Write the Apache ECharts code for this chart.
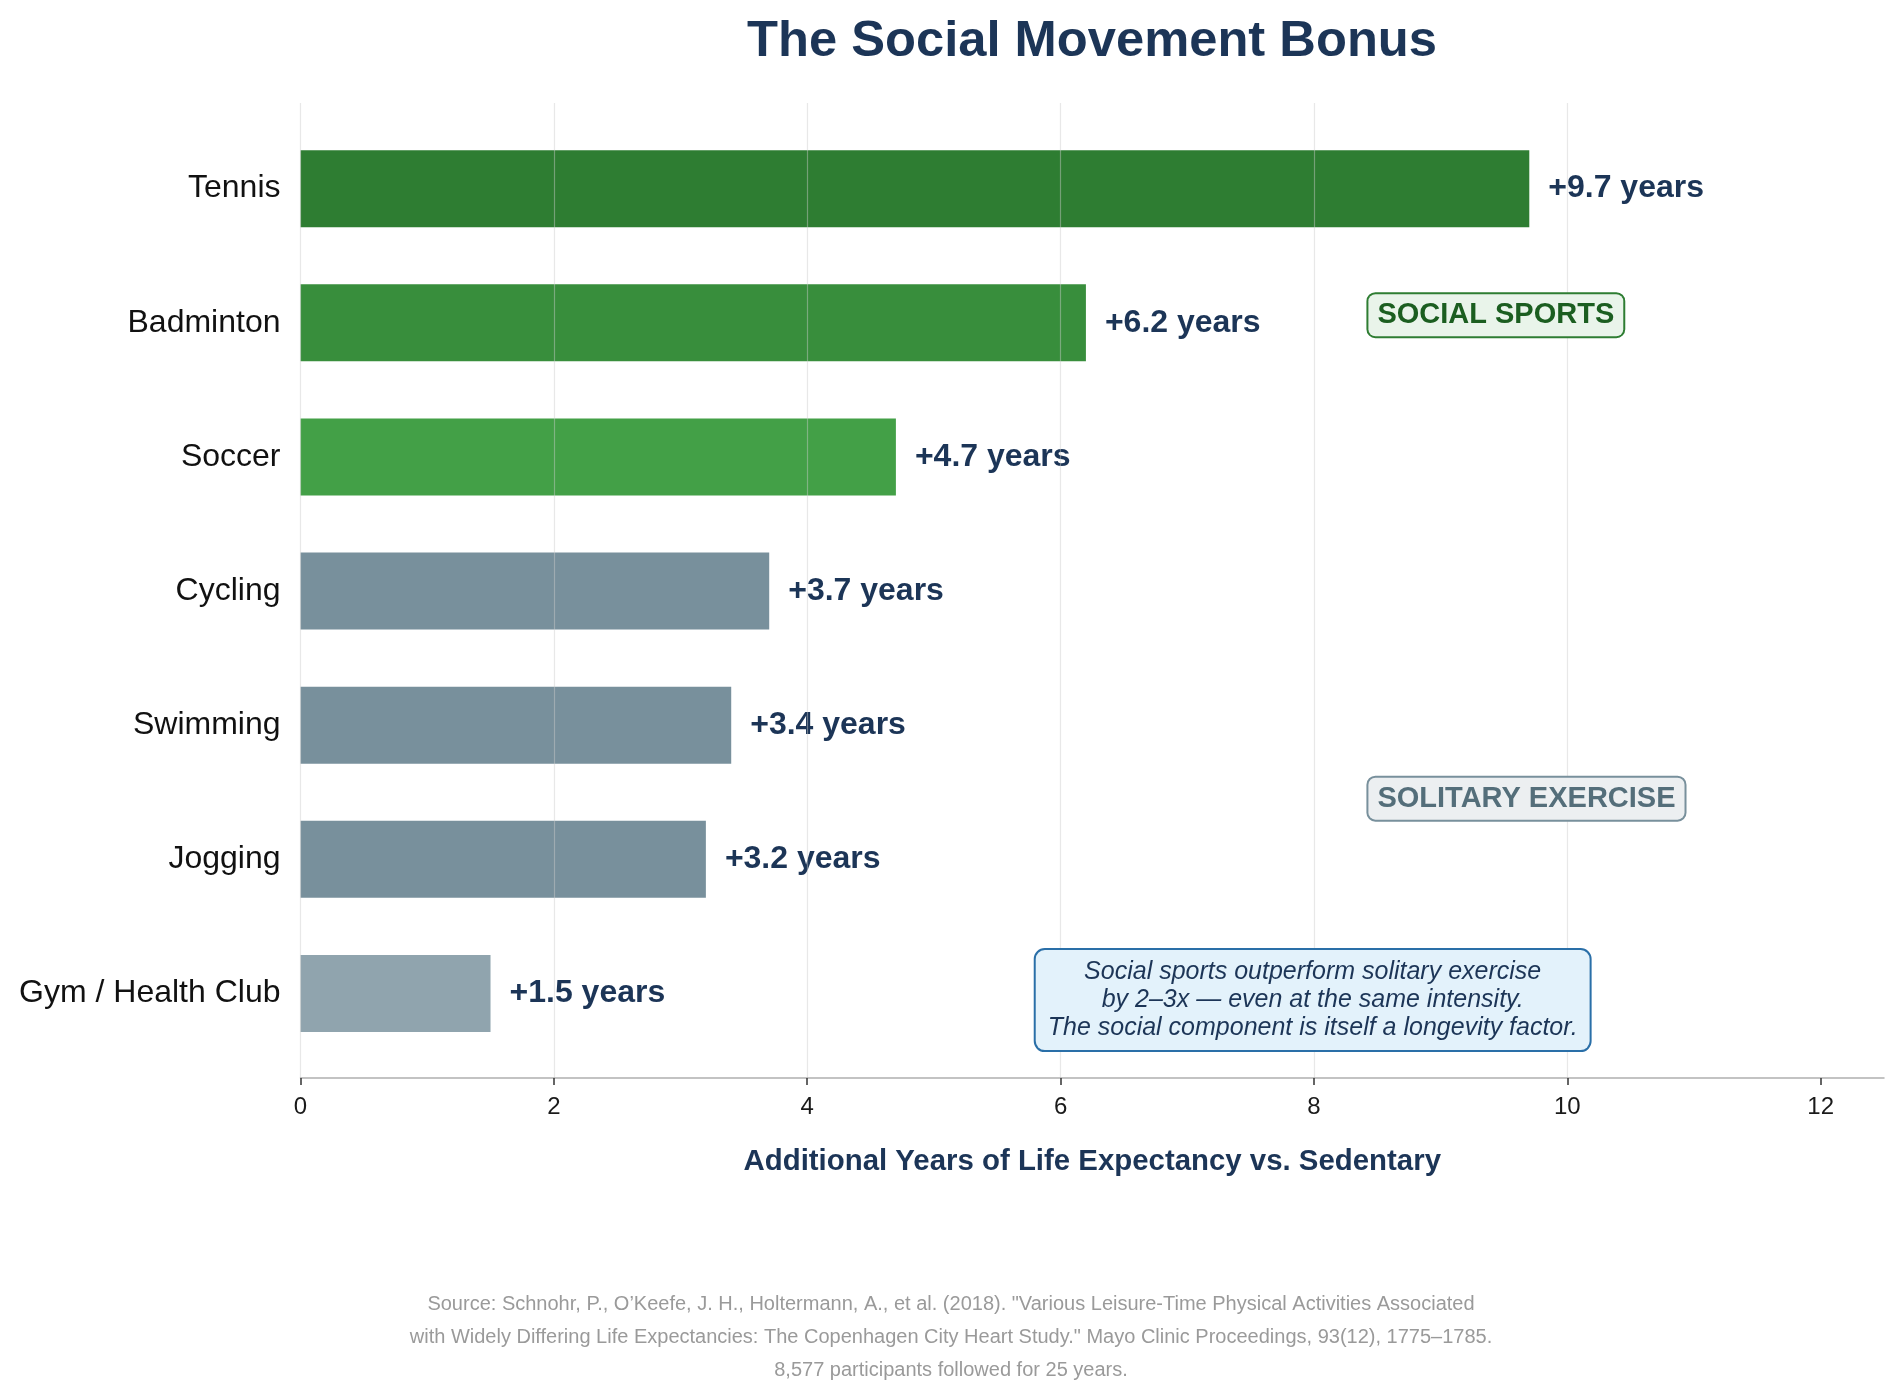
<!DOCTYPE html>
<html><head><meta charset="utf-8">
<script src="https://cdn.jsdelivr.net/npm/echarts@6/dist/echarts.min.js"></script>
<style>html,body{margin:0;padding:0;background:#fff}#c{width:1902px;height:1400px}</style>
</head><body><div id="c"></div>
<script>
// ---- data ----
const categories = ['Tennis', 'Badminton', 'Soccer', 'Cycling', 'Swimming', 'Jogging', 'Gym / Health Club'];
const yearsGained = [9.7, 6.2, 4.7, 3.7, 3.4, 3.2, 1.5];
const xTickValues = [0, 2, 4, 6, 8, 10, 12];
const titleText = 'The Social Movement Bonus';
const xAxisTitle = 'Additional Years of Life Expectancy vs. Sedentary';
const socialTag = 'SOCIAL SPORTS';
const solitaryTag = 'SOLITARY EXERCISE';
const noteLines = [
  'Social sports outperform solitary exercise',
  'by 2\u20133x \u2014 even at the same intensity.',
  'The social component is itself a longevity factor.'
];
const sourceLines = [
  'Source: Schnohr, P., O\u2019Keefe, J. H., Holtermann, A., et al. (2018). "Various Leisure-Time Physical Activities Associated',
  'with Widely Differing Life Expectancies: The Copenhagen City Heart Study." Mayo Clinic Proceedings, 93(12), 1775\u20131785.',
  '8,577 participants followed for 25 years.'
];

// ---- styles ----
const barPalette = ['#2e7d32', '#388e3c', '#43a047', '#78909c', '#78909c', '#78909c', '#90a4ae'];
const FONT = '"Liberation Sans", Arial, sans-serif';
const NAVY = '#1c3557';
const X_MAX = 12.5;

const chart = echarts.init(document.getElementById('c'), null, {renderer: 'canvas'});
const gridColor = 'rgba(205,205,205,0.45)';

const option = {
  animation: false,
  backgroundColor: '#ffffff',
  title: {
    text: titleText, left: 1087, top: 12, textAlign: 'center',
    textStyle: {fontFamily: FONT, fontSize: 50.7, fontWeight: 'bold', color: NAVY}
  },
  grid: [
    {left: 300.5, right: 18, top: 103, bottom: 322},
    {left: 300.5, right: 18, top: 121.6, bottom: 339.5}
  ],
  xAxis: [
    {
      gridIndex: 0, type: 'value', min: 0, max: X_MAX, interval: 2, z: 10,
      name: xAxisTitle, nameLocation: 'middle', nameGap: 69,
      nameTextStyle: {fontFamily: FONT, fontSize: 29.4, fontWeight: 'bold', color: NAVY},
      axisLine: {show: true, onZero: false, lineStyle: {color: '#b0b0b0', width: 1.5}},
      axisTick: {show: true, customValues: xTickValues, length: 7, lineStyle: {color: '#333', width: 1.5}},
      axisLabel: {customValues: xTickValues, margin: 17, fontFamily: FONT, fontSize: 24, color: '#1a1a1a'},
      splitLine: {show: true, showMaxLine: false, lineStyle: {color: [gridColor, gridColor, gridColor, gridColor, gridColor, gridColor, gridColor, 'rgba(0,0,0,0)'], width: 1.2}}
    },
    {
      gridIndex: 1, type: 'value', min: 0, max: X_MAX, show: false,
      splitLine: {show: false}
    }
  ],
  yAxis: [
    {gridIndex: 0, type: 'value', min: -0.63, max: 6.63, inverse: true, show: false, splitLine: {show: false}},
    {
      gridIndex: 1, type: 'category', data: categories, inverse: true,
      axisLine: {show: false}, axisTick: {show: false},
      axisLabel: {margin: 20, padding: [5, 0, 0, 0], fontFamily: FONT, fontSize: 32, color: '#111'}
    }
  ],
  series: [{
    type: 'bar', xAxisIndex: 1, yAxisIndex: 1, barWidth: 77,
    data: yearsGained.map((v, i) => ({value: v, itemStyle: {color: barPalette[i]}})),
    label: {
      show: true, position: 'right', distance: 19,
      formatter: p => '+' + p.value.toFixed(1) + ' years',
      fontFamily: FONT, fontSize: 32, fontWeight: 'bold', color: NAVY
    }
  }]
};
chart.setOption(option);

function px(x, y) { return chart.convertToPixel({gridIndex: 0}, [x, y]); }
const pSocial = px(8.43, 0.95);
const pSolitary = px(8.43, 4.55);
const pNote = px(7.99, 6.05);

chart.setOption({
  graphic: [
    {
      type: 'text', x: pSocial[0], y: pSocial[1], z: 100,
      style: {
        text: socialTag, fontFamily: FONT, fontSize: 29, fontWeight: 'bold', fill: '#1b5e20',
        align: 'left', verticalAlign: 'middle',
        backgroundColor: '#e9f4ea', borderColor: '#2e7d32', borderWidth: 2, borderRadius: 7,
        padding: [7, 9, 6, 9]
      }
    },
    {
      type: 'text', x: pSolitary[0], y: pSolitary[1], z: 100,
      style: {
        text: solitaryTag, fontFamily: FONT, fontSize: 29, fontWeight: 'bold', fill: '#546e7a',
        align: 'left', verticalAlign: 'middle',
        backgroundColor: '#eceff1', borderColor: '#78909c', borderWidth: 2, borderRadius: 7,
        padding: [7, 9, 6, 9]
      }
    },
    {
      type: 'text', x: pNote[0], y: pNote[1], z: 100,
      style: {
        text: noteLines.join('\n'), fontFamily: FONT, fontSize: 25, fontStyle: 'italic', fill: NAVY,
        align: 'center', verticalAlign: 'middle', lineHeight: 28,
        backgroundColor: '#e3f2fb', borderColor: '#2a6fa8', borderWidth: 2, borderRadius: 9,
        padding: [8, 12, 8, 12]
      }
    },
    {
      type: 'text', x: 951, y: 1288, z: 100,
      style: {
        text: sourceLines.join('\n'), fontFamily: FONT, fontSize: 20, fill: '#9a9a9a',
        align: 'center', verticalAlign: 'top', lineHeight: 33
      }
    }
  ]
});
</script>
</body></html>
